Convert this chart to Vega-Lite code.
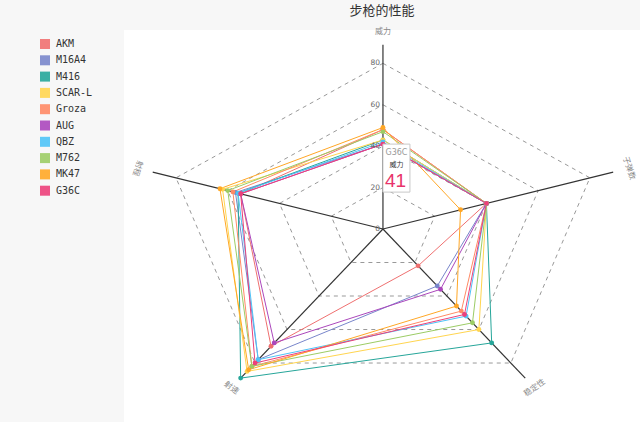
{
  "$schema": "https://vega.github.io/schema/vega-lite/v6.json",
  "width": 516,
  "height": 392,
  "autosize": {"type": "none"},
  "padding": {"left": 124, "top": 30, "right": 0, "bottom": 0},
  "background": "#f7f7f7",
  "view": {"fill": "white", "stroke": null},
  "title": {
    "text": "步枪的性能",
    "anchor": "middle",
    "font": "Noto Sans CJK SC",
    "fontSize": 13,
    "fontWeight": "normal",
    "color": "#333",
    "offset": 10
  },
  "config": {
    "legend": {
      "orient": "none", "legendX": -84, "legendY": 9, "title": null,
      "symbolType": "square", "symbolSize": 100, "symbolOpacity": 0.9,
      "symbolStrokeWidth": 0,
      "labelFont": "DejaVu Sans Mono", "labelFontSize": 10, "labelColor": "#333",
      "labelOffset": 6, "rowPadding": 6.3, "padding": 0
    }
  },
  "datasets": {
    "guns": [
      {"weapon": "AKM", "attr": "威力", "value": 48},
      {"weapon": "AKM", "attr": "子弹数", "value": 40},
      {"weapon": "AKM", "attr": "稳定性", "value": 22},
      {"weapon": "AKM", "attr": "射速", "value": 70},
      {"weapon": "AKM", "attr": "射程", "value": 55},
      {"weapon": "M16A4", "attr": "威力", "value": 41},
      {"weapon": "M16A4", "attr": "子弹数", "value": 40},
      {"weapon": "M16A4", "attr": "稳定性", "value": 34},
      {"weapon": "M16A4", "attr": "射速", "value": 78},
      {"weapon": "M16A4", "attr": "射程", "value": 57},
      {"weapon": "M416", "attr": "威力", "value": 43},
      {"weapon": "M416", "attr": "子弹数", "value": 40},
      {"weapon": "M416", "attr": "稳定性", "value": 68},
      {"weapon": "M416", "attr": "射速", "value": 89},
      {"weapon": "M416", "attr": "射程", "value": 56},
      {"weapon": "SCAR-L", "attr": "威力", "value": 43},
      {"weapon": "SCAR-L", "attr": "子弹数", "value": 40},
      {"weapon": "SCAR-L", "attr": "稳定性", "value": 60},
      {"weapon": "SCAR-L", "attr": "射速", "value": 85},
      {"weapon": "SCAR-L", "attr": "射程", "value": 62},
      {"weapon": "Groza", "attr": "威力", "value": 48},
      {"weapon": "Groza", "attr": "子弹数", "value": 40},
      {"weapon": "Groza", "attr": "稳定性", "value": 49},
      {"weapon": "Groza", "attr": "射速", "value": 82},
      {"weapon": "Groza", "attr": "射程", "value": 58},
      {"weapon": "AUG", "attr": "威力", "value": 41},
      {"weapon": "AUG", "attr": "子弹数", "value": 40},
      {"weapon": "AUG", "attr": "稳定性", "value": 36},
      {"weapon": "AUG", "attr": "射速", "value": 68},
      {"weapon": "AUG", "attr": "射程", "value": 55},
      {"weapon": "QBZ", "attr": "威力", "value": 42},
      {"weapon": "QBZ", "attr": "子弹数", "value": 40},
      {"weapon": "QBZ", "attr": "稳定性", "value": 52},
      {"weapon": "QBZ", "attr": "射速", "value": 78},
      {"weapon": "QBZ", "attr": "射程", "value": 56},
      {"weapon": "M762", "attr": "威力", "value": 47},
      {"weapon": "M762", "attr": "子弹数", "value": 40},
      {"weapon": "M762", "attr": "稳定性", "value": 56},
      {"weapon": "M762", "attr": "射速", "value": 82},
      {"weapon": "M762", "attr": "射程", "value": 60},
      {"weapon": "MK47", "attr": "威力", "value": 49},
      {"weapon": "MK47", "attr": "子弹数", "value": 30},
      {"weapon": "MK47", "attr": "稳定性", "value": 46},
      {"weapon": "MK47", "attr": "射速", "value": 84},
      {"weapon": "MK47", "attr": "射程", "value": 63},
      {"weapon": "G36C", "attr": "威力", "value": 41},
      {"weapon": "G36C", "attr": "子弹数", "value": 40},
      {"weapon": "G36C", "attr": "稳定性", "value": 51},
      {"weapon": "G36C", "attr": "射速", "value": 80},
      {"weapon": "G36C", "attr": "射程", "value": 55}
    ],
    "grid": [
      {"level": 20, "attr": "威力"}, {"level": 20, "attr": "子弹数"}, {"level": 20, "attr": "稳定性"}, {"level": 20, "attr": "射速"}, {"level": 20, "attr": "射程"},
      {"level": 40, "attr": "威力"}, {"level": 40, "attr": "子弹数"}, {"level": 40, "attr": "稳定性"}, {"level": 40, "attr": "射速"}, {"level": 40, "attr": "射程"},
      {"level": 60, "attr": "威力"}, {"level": 60, "attr": "子弹数"}, {"level": 60, "attr": "稳定性"}, {"level": 60, "attr": "射速"}, {"level": 60, "attr": "射程"},
      {"level": 80, "attr": "威力"}, {"level": 80, "attr": "子弹数"}, {"level": 80, "attr": "稳定性"}, {"level": 80, "attr": "射速"}, {"level": 80, "attr": "射程"}
    ],
    "axes": [
      {"attr": "威力"}, {"attr": "子弹数"}, {"attr": "稳定性"}, {"attr": "射速"}, {"attr": "射程"}
    ],
    "ticks": [
      {"tick": 0}, {"tick": 20}, {"tick": 40}, {"tick": 60}, {"tick": 80}
    ]
  },
  "layer": [
    {
      "data": {"name": "grid"},
      "transform": [
        {"calculate": "indexof(['威力','子弹数','稳定性','射速','射程'], datum.attr)", "as": "i"},
        {"calculate": "PI/2 - datum.i*2*PI/5", "as": "theta"},
        {"calculate": "datum.level*cos(datum.theta)", "as": "px"},
        {"calculate": "datum.level*sin(datum.theta)", "as": "py"}
      ],
      "mark": {"type": "line", "interpolate": "linear-closed", "strokeDash": [4, 4], "color": "#999", "strokeWidth": 1},
      "encoding": {
        "x": {"field": "px", "type": "quantitative", "scale": {"domain": [-95.2, 94.5], "nice": false, "zero": false}, "axis": null},
        "y": {"field": "py", "type": "quantitative", "scale": {"domain": [-93.2, 96.1], "nice": false, "zero": false}, "axis": null},
        "detail": {"field": "level", "type": "nominal"},
        "order": {"field": "i", "type": "quantitative"}
      }
    },
    {
      "data": {"name": "axes"},
      "transform": [
        {"calculate": "indexof(['威力','子弹数','稳定性','射速','射程'], datum.attr)", "as": "i"},
        {"calculate": "PI/2 - datum.i*2*PI/5", "as": "theta"},
        {"calculate": "89*cos(datum.theta)", "as": "px"},
        {"calculate": "89*sin(datum.theta)", "as": "py"}
      ],
      "mark": {"type": "rule", "color": "#333", "strokeWidth": 1.2},
      "encoding": {
        "x": {"field": "px", "type": "quantitative"},
        "y": {"field": "py", "type": "quantitative"},
        "x2": {"datum": 0},
        "y2": {"datum": 0}
      }
    },
    {
      "data": {"name": "guns"},
      "transform": [
        {"calculate": "indexof(['威力','子弹数','稳定性','射速','射程'], datum.attr)", "as": "i"},
        {"calculate": "PI/2 - datum.i*2*PI/5", "as": "theta"},
        {"calculate": "datum.value*cos(datum.theta)", "as": "px"},
        {"calculate": "datum.value*sin(datum.theta)", "as": "py"}
      ],
      "mark": {"type": "line", "interpolate": "linear-closed", "strokeWidth": 1},
      "encoding": {
        "x": {"field": "px", "type": "quantitative"},
        "y": {"field": "py", "type": "quantitative"},
        "color": {"field": "weapon", "type": "nominal", "sort": null,
          "scale": {
            "domain": ["AKM", "M16A4", "M416", "SCAR-L", "Groza", "AUG", "QBZ", "M762", "MK47", "G36C"],
            "range": ["#ef7070", "#7986cb", "#26a69a", "#ffd54f", "#ff8a65", "#ab47bc", "#4fc3f7", "#9ccc65", "#ffa726", "#ec407a"]
          },
          "legend": {
            "symbolType": "square",
            "encode": {"symbols": {"update": {"fill": {"scale": "color", "field": "value"}, "strokeWidth": {"value": 0}, "opacity": {"value": 0.9}}}}
          }},
        "order": {"field": "i", "type": "quantitative"}
      }
    },
    {
      "data": {"name": "guns"},
      "transform": [
        {"calculate": "indexof(['威力','子弹数','稳定性','射速','射程'], datum.attr)", "as": "i"},
        {"calculate": "PI/2 - datum.i*2*PI/5", "as": "theta"},
        {"calculate": "datum.value*cos(datum.theta)", "as": "px"},
        {"calculate": "datum.value*sin(datum.theta)", "as": "py"}
      ],
      "mark": {"type": "circle", "size": 24, "opacity": 1},
      "encoding": {
        "x": {"field": "px", "type": "quantitative"},
        "y": {"field": "py", "type": "quantitative"},
        "color": {"field": "weapon", "type": "nominal", "sort": null}
      }
    },
    {
      "data": {"name": "ticks"},
      "mark": {"type": "text", "align": "right", "baseline": "middle", "dx": -3, "font": "DejaVu Sans", "fontSize": 7.5, "color": "#666"},
      "encoding": {
        "x": {"datum": 0, "type": "quantitative"},
        "y": {"field": "tick", "type": "quantitative"},
        "text": {"field": "tick", "type": "quantitative"}
      }
    },
    {
      "data": {"name": "axes"},
      "transform": [
        {"calculate": "indexof(['威力','子弹数','稳定性','射速','射程'], datum.attr)", "as": "i"},
        {"calculate": "PI/2 - datum.i*2*PI/5", "as": "theta"},
        {"calculate": "95*cos(datum.theta)", "as": "px"},
        {"calculate": "95*sin(datum.theta)", "as": "py"},
        {"calculate": "90 - datum.theta*180/PI", "as": "r0"},
        {"calculate": "datum.r0 > 90 ? datum.r0 - 180 : (datum.r0 < -90 ? datum.r0 + 180 : datum.r0)", "as": "rot"}
      ],
      "mark": {"type": "text", "align": "center", "baseline": "middle", "font": "Noto Sans CJK SC", "fontSize": 8, "color": "#888"},
      "encoding": {
        "x": {"field": "px", "type": "quantitative"},
        "y": {"field": "py", "type": "quantitative"},
        "angle": {"field": "rot", "type": "quantitative", "scale": null},
        "text": {"field": "attr", "type": "nominal"}
      }
    },
    {
      "data": {"name": "guns"},
      "transform": [{"filter": "datum.weapon == 'G36C' && datum.attr == '威力'"}],
      "mark": {"type": "point", "filled": true, "fill": "white", "stroke": "#c8c8c8", "strokeWidth": 1, "opacity": 1,
        "shape": "M-0.5625,-1L0.5625,-1L0.5625,1L-0.5625,1Z", "size": 2304, "xOffset": 13.5, "yOffset": 24},
      "encoding": {
        "x": {"datum": 0, "type": "quantitative"},
        "y": {"field": "value", "type": "quantitative"}
      }
    },
    {
      "data": {"name": "guns"},
      "transform": [{"filter": "datum.weapon == 'G36C' && datum.attr == '威力'"}],
      "mark": {"type": "text", "dx": 13.5, "dy": 9, "font": "DejaVu Sans", "fontSize": 8, "color": "#999"},
      "encoding": {
        "x": {"datum": 0, "type": "quantitative"},
        "y": {"field": "value", "type": "quantitative"},
        "text": {"field": "weapon", "type": "nominal"}
      }
    },
    {
      "data": {"name": "guns"},
      "transform": [{"filter": "datum.weapon == 'G36C' && datum.attr == '威力'"}],
      "mark": {"type": "text", "dx": 13.5, "dy": 21, "font": "Noto Sans CJK SC", "fontSize": 7, "color": "#333"},
      "encoding": {
        "x": {"datum": 0, "type": "quantitative"},
        "y": {"field": "value", "type": "quantitative"},
        "text": {"field": "attr", "type": "nominal"}
      }
    },
    {
      "data": {"name": "guns"},
      "transform": [{"filter": "datum.weapon == 'G36C' && datum.attr == '威力'"}],
      "mark": {"type": "text", "dx": 12.5, "dy": 37, "font": "Liberation Sans", "fontSize": 19, "color": "#e8336a"},
      "encoding": {
        "x": {"datum": 0, "type": "quantitative"},
        "y": {"field": "value", "type": "quantitative"},
        "text": {"field": "value", "type": "quantitative"}
      }
    }
  ]
}
